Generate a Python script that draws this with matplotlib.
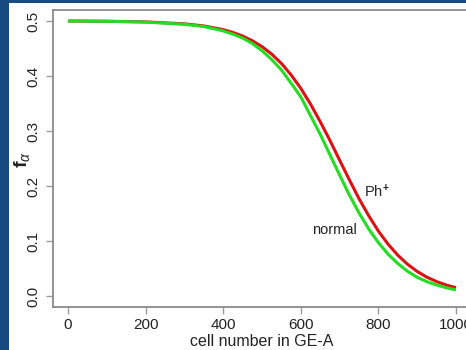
import matplotlib
matplotlib.use("Agg")
import matplotlib.pyplot as plt
from matplotlib.patches import Rectangle

plt.rcParams['font.family'] = ['Liberation Sans', 'DejaVu Sans']
plt.rcParams['mathtext.fontset'] = 'custom'
plt.rcParams['mathtext.rm'] = 'Liberation Sans'
plt.rcParams['mathtext.bf'] = 'Liberation Sans:bold'
plt.rcParams['mathtext.it'] = 'Liberation Sans:italic'

cells = [0, 100, 200, 300, 350, 400, 425, 450, 475, 500, 525, 550, 575, 600,
         625, 650, 675, 700, 725, 750, 775, 800, 825, 850, 875, 900, 925,
         950, 975, 1000]
normal = [0.500, 0.4995, 0.498, 0.494, 0.490, 0.482, 0.476, 0.469, 0.459,
          0.446, 0.430, 0.411, 0.387, 0.362, 0.328, 0.294, 0.257, 0.220,
          0.184, 0.151, 0.122, 0.097, 0.076, 0.059, 0.045, 0.034, 0.026,
          0.020, 0.015, 0.011]
phplus = [0.500, 0.4995, 0.4984, 0.4948, 0.491, 0.4843, 0.4792, 0.4727,
          0.4642, 0.4534, 0.4398, 0.4229, 0.402, 0.3776, 0.349, 0.317,
          0.283, 0.247, 0.2115, 0.177, 0.146, 0.118, 0.0942, 0.0742, 0.0578,
          0.0446, 0.0342, 0.0262, 0.0199, 0.0151]
xticks = [0, 200, 400, 600, 800, 1000]
yticks = [0.0, 0.1, 0.2, 0.3, 0.4, 0.5]

W, H = 466, 350
fig = plt.figure(figsize=(W / 100, H / 100), dpi=100)
fig.patch.set_facecolor('#174a7e')
fig.patches.append(Rectangle((9 / W, 0), 1 - 9 / W, 1 - 3 / H,
                             transform=fig.transFigure, facecolor='white',
                             edgecolor='none', zorder=-10))

ax = fig.add_axes([52.5 / W, (H - 307) / H, (471.5 - 52.5) / W, (307 - 10) / H])
ax.set_zorder(5)
ax.set_facecolor('white')
ax.plot(cells, phplus, color='#dd1111', lw=2.2, solid_capstyle='butt')
ax.plot(cells, normal, color='#22dd22', lw=2.2, solid_capstyle='butt')

ax.set_xlim(-40, 1040)
ax.set_ylim(-0.02, 0.52)
ax.set_xticks(xticks)
ax.set_xticklabels([str(v) for v in xticks])
ax.set_yticks(yticks)
ax.set_yticklabels([f"{v:.1f}" for v in yticks], rotation=90, va='center')

for s in ax.spines.values():
    s.set_color('#8a8a8a')
    s.set_linewidth(1.3)
ax.tick_params(axis='both', colors='#9a9a9a', labelcolor='#222222',
               length=5, width=1.0, labelsize=11, direction='out')
ax.tick_params(axis='x', pad=3)
ax.tick_params(axis='y', pad=4)

ax.set_xlabel('cell number in GE-A', fontsize=11.5, color='#222222', labelpad=1)
ax.set_ylabel(r'$\mathbf{f}_{\alpha}$', fontsize=14, color='#222222')
ax.yaxis.set_label_coords(-0.05, 0.495)

ax.text(796, 0.19, r'Ph$^{\mathbf{+}}$', fontsize=10.5, color='#222222',
        ha='center', va='center')
ax.text(688, 0.12, 'normal', fontsize=10.5, color='#222222',
        ha='center', va='center')

fig.savefig('out.png', dpi=100, facecolor=fig.get_facecolor())
